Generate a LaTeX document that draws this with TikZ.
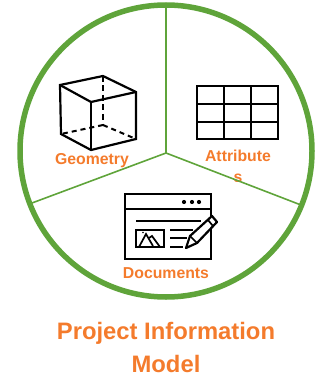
\documentclass[tikz,border=0pt]{standalone}
\usepackage{fontspec}
\setmainfont{Liberation Sans}
\definecolor{ringgreen}{HTML}{5FA43A}
\definecolor{labelorange}{HTML}{F47B2C}
\tikzset{
  ring/.style={draw=ringgreen,line width=5.5pt},
  spoke/.style={draw=ringgreen,line width=1.6pt},
  icon/.style={draw=black,line width=2.2pt,line join=miter},
  thinicon/.style={draw=black,line width=1.7pt},
  hidden/.style={draw=black,line width=2pt,dash pattern=on 5pt off 4pt},
  hiddenv/.style={draw=black,line width=2.8pt,dash pattern=on 6pt off 3.5pt},
  lbl/.style={text=labelorange,font=\fontsize{15.8}{18}\selectfont\bfseries,inner sep=0pt,anchor=base},
  title/.style={text=labelorange,font=\fontsize{23.8}{28}\selectfont\bfseries,inner sep=0pt,anchor=base}
}
\begin{document}
\begin{tikzpicture}[x=1pt,y=-1pt]
\useasboundingbox (0,0) rectangle (323,377);
\coordinate (hub) at (166,153);
\coordinate (top) at (166,8);
\coordinate (lft) at (32,203);
\coordinate (rgt) at (301,205);
% attributes label, last line cut off
\node[lbl] (attr) at (238,161.5) {Attribute};
\begin{scope}
\clip (200,165) rectangle (280,181);
\node[lbl] (attrs) at (238,182.5) {s};
\end{scope}
\draw[spoke] (hub) -- (top);
\draw[spoke] (hub) -- (lft);
\draw[spoke] (hub) -- (rgt);
\draw[ring] (166,151) circle[radius=146];
% cube
\draw[hiddenv] (103,76) -- (103,125);
\draw[hidden] (103,125) -- (61,134);
\draw[hidden] (103,125) -- (136,139);
\draw[icon] (60,85) -- (103,76) -- (136,92) -- (136,139) -- (91,150) -- (61,134) -- cycle;
\draw[icon] (60,85) -- (91,102) -- (136,92);
\draw[icon] (91,102) -- (91,150);
\node[lbl] (geo) at (92,164) {Geometry};
% table
\draw[icon] (197,86) rectangle (278,139);
\draw[icon] (224,86) -- (224,139);
\draw[icon] (251,86) -- (251,139);
\draw[icon] (197,104) -- (278,104);
\draw[icon] (197,122) -- (278,122);
% document
\draw[icon] (125,194) rectangle (211,259);
\draw[icon] (125,209) -- (211,209);
\fill (184,202) circle[radius=2.1];
\fill (192,202) circle[radius=2.1];
\fill (199,202) circle[radius=2.1];
\draw[thinicon] (136,221) -- (201,221);
\draw[icon] (136,230) rectangle (164,247);
\draw[thinicon] (139,247) -- (146,234) -- (153,246);
\draw[thinicon] (149,238) -- (152,236) -- (160,247);
\fill (143,232.5) circle[radius=0.8];
\draw[thinicon] (170,230) -- (193,230);
\draw[thinicon] (170,238) -- (187,238);
\draw[thinicon] (170,247) -- (183,247);
\draw[icon,fill=white,line join=round] (186,248) -- (190,236) -- (212,216) -- (217,222) -- (197,243) -- cycle;
\draw[thinicon] (208,220) -- (213,226);
\draw[thinicon] (190,236) -- (197,243);
\node[lbl] (docs) at (166,278) {Documents};
% title
\node[title] (t1) at (166,339) {Project Information};
\node[title] (t2) at (166,372) {Model};
\end{tikzpicture}
\end{document}
